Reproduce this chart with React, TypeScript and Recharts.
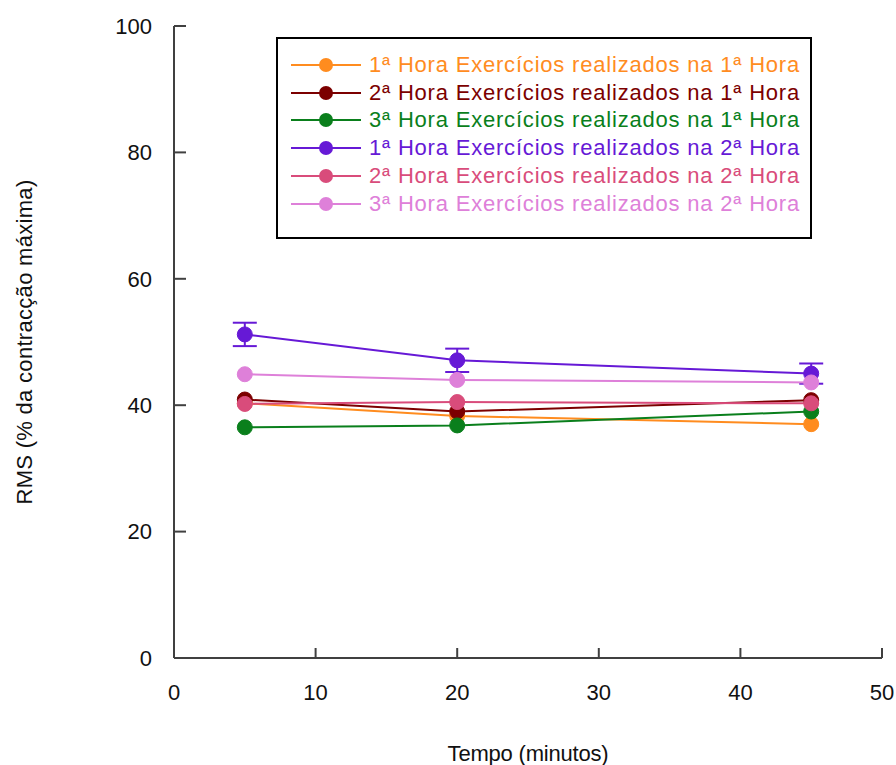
import React from "react";
import { LineChart, Line, XAxis, YAxis, Legend, ErrorBar } from "recharts";

// tempo de medição (minutos)
const tempos = [5, 20, 45];

const seriesNames = [
  "1ª Hora Exercícios realizados na 1ª Hora",
  "2ª Hora Exercícios realizados na 1ª Hora",
  "3ª Hora Exercícios realizados na 1ª Hora",
  "1ª Hora Exercícios realizados na 2ª Hora",
  "2ª Hora Exercícios realizados na 2ª Hora",
  "3ª Hora Exercícios realizados na 2ª Hora",
];

const seriesColors = ["#ff8c1f", "#7c0000", "#0a7f1c", "#6619d6", "#d94c7b", "#de80d9"];

// RMS médio (% da contracção máxima) em cada tempo
const h1e1 = [40.3, 38.3, 37.0];
const h2e1 = [40.9, 39.0, 40.8];
const h3e1 = [36.5, 36.8, 39.0];
const h1e2 = [51.2, 47.1, 45.0];
const h2e2 = [40.2, 40.5, 40.3];
const h3e2 = [44.9, 44.0, 43.6];

// erro padrão, só visível na série 1ª Hora / 2ª Hora
const h1e2Erro = [1.85, 1.85, 1.6];

const xTicks = [0, 10, 20, 30, 40, 50];
const yTicks = [0, 20, 40, 60, 80, 100];

const seriesValues = [h1e1, h2e1, h3e1, h1e2, h2e2, h3e2];
const keys = ["s0", "s1", "s2", "s3", "s4", "s5"];

const data = tempos.map((t, i) => {
  const row: Record<string, number> = { t, erro: h1e2Erro[i] };
  seriesValues.forEach((vals, s) => {
    row[keys[s]] = vals[i];
  });
  return row;
});

const FONT = "'Liberation Sans', Arial, sans-serif";
const AXIS = "#404040";
const X_MARGIN = 26;
const Y_MARGIN = 22;

// ticks point into the plot, so the tick mark is drawn together with its label
const XTick = (props: any) => {
  const { x, y, payload } = props;
  const axisY = y - X_MARGIN;
  return (
    <g>
      <line x1={x} x2={x} y1={axisY} y2={axisY - 10} stroke={AXIS} strokeWidth={2} />
      <text x={x} y={y} dy="0.71em" textAnchor="middle" fontSize={22} fill="#111">
        {payload.value}
      </text>
    </g>
  );
};

const YTick = (props: any) => {
  const { x, y, payload } = props;
  const axisX = x + Y_MARGIN;
  return (
    <g>
      <line x1={axisX} x2={axisX + 12} y1={y} y2={y} stroke={AXIS} strokeWidth={2} />
      <text x={x} y={y} dy="0.355em" textAnchor="end" fontSize={22} fill="#111">
        {payload.value}
      </text>
    </g>
  );
};

const LegendBox = () => (
  <div
    style={{
      width: 532,
      height: 186,
      border: "2px solid #000",
      background: "#fff",
      boxSizing: "content-box",
      paddingTop: 12,
      fontFamily: FONT,
    }}
  >
    {seriesNames.map((name, i) => (
      <div key={name} style={{ display: "flex", alignItems: "center", height: 27.8, paddingLeft: 12 }}>
        <svg width={72} height={18} style={{ flex: "none" }}>
          <line x1={1} y1={9} x2={71} y2={9} stroke={seriesColors[i]} strokeWidth={2} />
          <circle cx={36} cy={9} r={7} fill={seriesColors[i]} />
        </svg>
        <span
          style={{
            marginLeft: 7,
            fontSize: 22,
            letterSpacing: 0.8,
            color: seriesColors[i],
            whiteSpace: "nowrap",
          }}
        >
          {name}
        </span>
      </div>
    ))}
  </div>
);

export default function App() {
  return (
    <div style={{ position: "absolute", left: 0, top: 0, width: 896, height: 765, background: "#fff" }}>
      <LineChart
        width={896}
        height={765}
        data={data}
        margin={{ top: 26, right: 14, bottom: 47, left: 94 }}
        style={{ fontFamily: FONT }}
      >
        <XAxis
          dataKey="t"
          type="number"
          domain={[0, 50]}
          ticks={xTicks}
          height={60}
          stroke={AXIS}
          strokeWidth={2}
          tickLine={false}
          tickSize={0}
          tickMargin={X_MARGIN}
          tick={<XTick />}
          label={{
            value: "Tempo (minutos)",
            content: ({ viewBox }: any) => (
              <text
                x={viewBox.x + viewBox.width / 2}
                y={761}
                textAnchor="middle"
                fontSize={22}
                letterSpacing={-0.2}
                fill="#111"
              >
                Tempo (minutos)
              </text>
            ),
          }}
        />
        <YAxis
          type="number"
          domain={[0, 100]}
          ticks={yTicks}
          width={80}
          stroke={AXIS}
          strokeWidth={2}
          tickLine={false}
          tickSize={0}
          tickMargin={Y_MARGIN}
          tick={<YTick />}
          label={{
            value: "RMS (% da contracção máxima)",
            content: ({ viewBox }: any) => {
              const cy = viewBox.y + viewBox.height / 2;
              return (
                <text
                  x={32}
                  y={cy}
                  transform={`rotate(-90 32 ${cy})`}
                  textAnchor="middle"
                  fontSize={22}
                  letterSpacing={0.3}
                  fill="#111"
                >
                  RMS (% da contracção máxima)
                </text>
              );
            },
          }}
        />
        <Legend
          layout="vertical"
          align="center"
          verticalAlign="middle"
          wrapperStyle={{ left: 276, top: 37, width: 536 }}
          content={() => <LegendBox />}
        />
        {keys.map((k, i) => (
          <Line
            key={k}
            dataKey={k}
            name={seriesNames[i]}
            stroke={seriesColors[i]}
            strokeWidth={2}
            dot={{ r: 7.5, fill: seriesColors[i], stroke: seriesColors[i], strokeWidth: 1 }}
            activeDot={false}
            isAnimationActive={false}
          >
            {k === "s3" && (
              <ErrorBar
                dataKey="erro"
                direction="y"
                width={12}
                stroke={seriesColors[i]}
                strokeWidth={2}
                isAnimationActive={false}
              />
            )}
          </Line>
        ))}
      </LineChart>
    </div>
  );
}
